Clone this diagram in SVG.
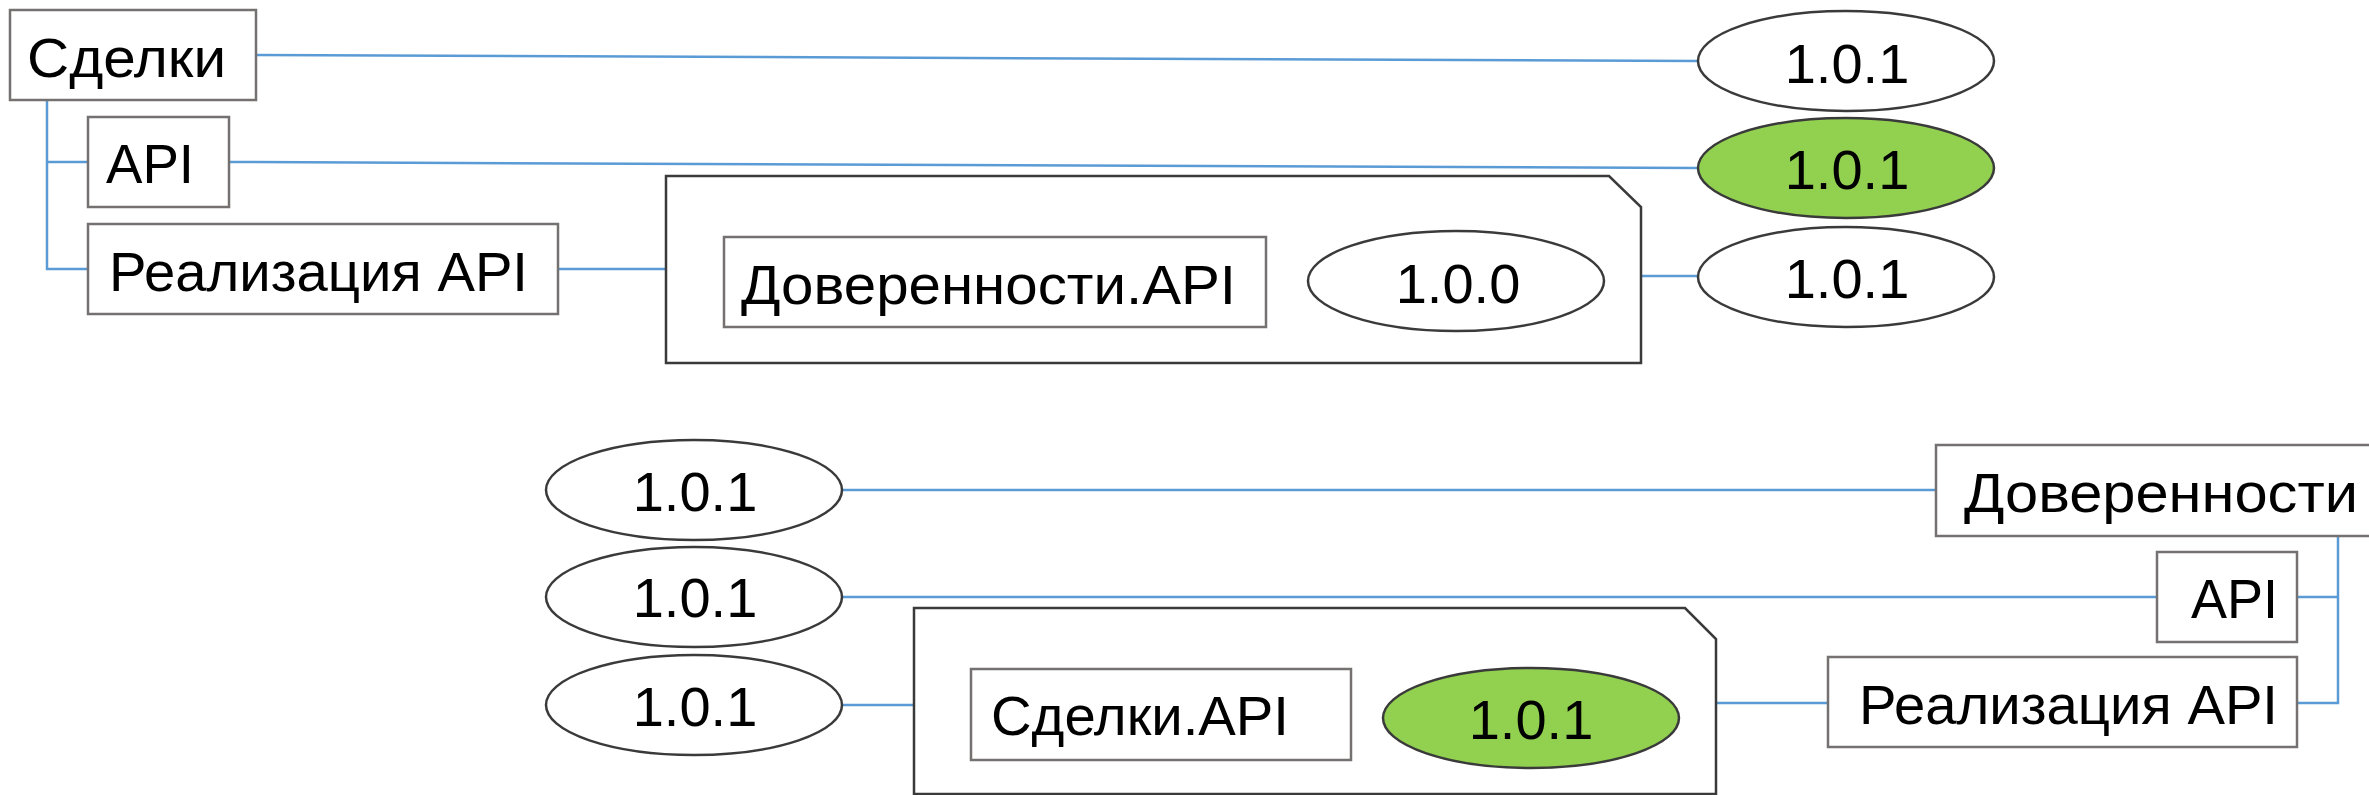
<svg xmlns="http://www.w3.org/2000/svg" width="2369" height="795" viewBox="0 0 2369 795">
<style>
.box{fill:#fff;stroke:#767171;stroke-width:2.5}
.cont{fill:#fff;stroke:#3a3a3a;stroke-width:2.5}
.ell{fill:#fff;stroke:#3a3a3a;stroke-width:2.5}
.green{fill:#92d050}
.lbl{font-family:"Liberation Sans",Arial,sans-serif;font-size:56px;fill:#000}
.mid{text-anchor:middle}
.con{fill:none;stroke:#5b9bd5;stroke-width:2.5}
</style>
<rect width="2369" height="795" fill="#fff"/>
<g id="connectors">
<path class="con" d="M256 55 L1698 61"/>
<path class="con" d="M229 162 L1698 168"/>
<path class="con" d="M47 100 V269 H88 M47 162 H88"/>
<path class="con" d="M558 269 H666"/>
<path class="con" d="M1266 283 L1308 281"/>
<path class="con" d="M1641 276 H1698"/>
<path class="con" d="M843 490 H1936"/>
<path class="con" d="M843 597 H2157"/>
<path class="con" d="M843 705 H914"/>
<path class="con" d="M1351 715 L1383 719"/>
<path class="con" d="M1716 703 H1828"/>
<path class="con" d="M2338 536 V703 H2297 M2338 597 H2297"/>
</g>
<g id="top-container"><path class="cont" d="M666 176 H1609 L1641 207 V363 H666 Z"/></g>
<g id="bottom-container"><path class="cont" d="M914 608 H1685 L1716 639 V794 H914 Z"/></g>
<g id="sdelki"><rect class="box" x="10" y="10" width="246" height="90"/><text class="lbl" x="27" y="77" textLength="199" lengthAdjust="spacingAndGlyphs">Сделки</text></g>
<g id="sdelki-api"><rect class="box" x="88" y="117" width="141" height="90"/><text class="lbl" x="106" y="183" textLength="88" lengthAdjust="spacingAndGlyphs">API</text></g>
<g id="sdelki-impl"><rect class="box" x="88" y="224" width="470" height="90"/><text class="lbl" x="109" y="291" textLength="419" lengthAdjust="spacingAndGlyphs">Реализация API</text></g>
<g id="dov-api-inner"><rect class="box" x="724" y="237" width="542" height="90"/><text class="lbl" x="741" y="304" textLength="495" lengthAdjust="spacingAndGlyphs">Доверенности.API</text></g>
<g id="v100"><ellipse class="ell" cx="1456" cy="281" rx="148" ry="50"/><text class="lbl mid" x="1458" y="303">1.0.0</text></g>
<g id="v-top1"><ellipse class="ell" cx="1846" cy="61" rx="148" ry="50"/><text class="lbl mid" x="1847" y="83">1.0.1</text></g>
<g id="v-top2"><ellipse class="ell green" cx="1846" cy="168" rx="148" ry="50"/><text class="lbl mid" x="1847" y="189">1.0.1</text></g>
<g id="v-top3"><ellipse class="ell" cx="1846" cy="277" rx="148" ry="50"/><text class="lbl mid" x="1847" y="298">1.0.1</text></g>
<g id="v-bot1"><ellipse class="ell" cx="694" cy="490" rx="148" ry="50"/><text class="lbl mid" x="695" y="511">1.0.1</text></g>
<g id="v-bot2"><ellipse class="ell" cx="694" cy="597" rx="148" ry="50"/><text class="lbl mid" x="695" y="617">1.0.1</text></g>
<g id="v-bot3"><ellipse class="ell" cx="694" cy="705" rx="148" ry="50"/><text class="lbl mid" x="695" y="726">1.0.1</text></g>
<g id="sdelki-api-inner"><rect class="box" x="971" y="669" width="380" height="91"/><text class="lbl" x="991" y="735" textLength="298" lengthAdjust="spacingAndGlyphs">Сделки.API</text></g>
<g id="v-bot-green"><ellipse class="ell green" cx="1531" cy="718" rx="148" ry="50"/><text class="lbl mid" x="1531" y="739">1.0.1</text></g>
<g id="dov"><rect class="box" x="1936" y="445" width="440" height="91"/><text class="lbl" x="1964" y="512" textLength="394" lengthAdjust="spacingAndGlyphs">Доверенности</text></g>
<g id="dov-api"><rect class="box" x="2157" y="552" width="140" height="90"/><text class="lbl" x="2191" y="618" textLength="87" lengthAdjust="spacingAndGlyphs">API</text></g>
<g id="dov-impl"><rect class="box" x="1828" y="657" width="469" height="90"/><text class="lbl" x="1859" y="724" textLength="419" lengthAdjust="spacingAndGlyphs">Реализация API</text></g>
</svg>
